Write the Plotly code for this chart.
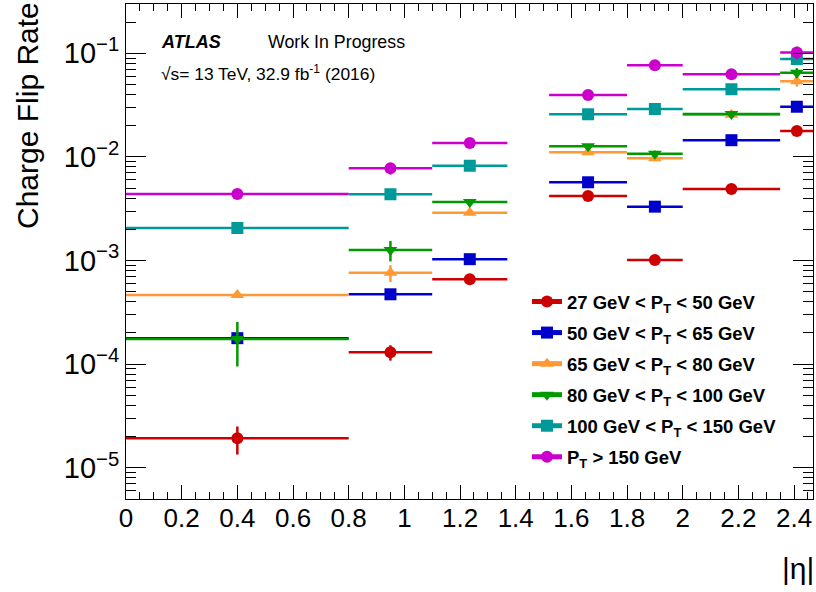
import plotly.graph_objects as go

# |eta| bins
eta_centers = [0.4, 0.95, 1.235, 1.66, 1.9, 2.175, 2.41]
eta_halfwidths = [0.4, 0.15, 0.135, 0.14, 0.1, 0.175, 0.06]

# charge flip rates per pT bin
rate_27_50 = [1.92e-5, 1.30e-4, 6.6e-4, 4.2e-3, 1.01e-3, 4.9e-3, 1.78e-2]
err_27_50 = [0.58e-5, 0.22e-4, 0.3e-4, 0.15e-3, 0.05e-3, 0.2e-3, 0.8e-3]
rate_50_65 = [1.78e-4, 4.72e-4, 1.03e-3, 5.69e-3, 3.31e-3, 1.45e-2, 3.05e-2]
err_50_65 = [0.1e-4, 0.2e-4, 0.4e-4, 0.2e-3, 0.15e-3, 0.5e-3, 1.2e-3]
rate_65_80 = [4.65e-4, 7.6e-4, 2.89e-3, 1.11e-2, 9.7e-3, 2.55e-2, 5.37e-2]
err_65_80 = [0.3e-4, 1.4e-4, 1.5e-4, 0.5e-3, 0.6e-3, 1.2e-3, 6.0e-3]
rate_80_100 = [1.75e-4, 1.26e-3, 3.67e-3, 1.27e-2, 1.07e-2, 2.59e-2, 6.5e-2]
err_80_100 = [0.8e-4, 0.28e-3, 0.25e-3, 0.6e-3, 0.8e-3, 1.4e-3, 7.0e-3]
rate_100_150 = [2.06e-3, 4.36e-3, 8.22e-3, 2.58e-2, 2.90e-2, 4.5e-2, 8.81e-2]
err_100_150 = [0.1e-3, 0.35e-3, 0.4e-3, 1.0e-3, 1.3e-3, 1.8e-3, 5.0e-3]
rate_150 = [4.38e-3, 7.76e-3, 1.36e-2, 3.96e-2, 7.66e-2, 6.27e-2, 1.02e-1]
err_150 = [0.25e-3, 1.0e-3, 0.8e-3, 1.6e-3, 3.0e-3, 2.5e-3, 1.4e-2]

series_names = [
    "<b>27 GeV < P<sub>T</sub> < 50 GeV</b>",
    "<b>50 GeV < P<sub>T</sub> < 65 GeV</b>",
    "<b>65 GeV < P<sub>T</sub> < 80 GeV</b>",
    "<b>80 GeV < P<sub>T</sub> < 100 GeV</b>",
    "<b>100 GeV < P<sub>T</sub> < 150 GeV</b>",
    "<b>P<sub>T</sub> > 150 GeV</b>",
]
series_rates = [rate_27_50, rate_50_65, rate_65_80, rate_80_100, rate_100_150, rate_150]
series_errs = [err_27_50, err_50_65, err_65_80, err_80_100, err_100_150, err_150]
series_colors = ["#cc0000", "#0000cc", "#ff9933", "#009900", "#009999", "#cc00cc"]
series_symbols = ["circle", "square", "triangle-up", "triangle-down", "square", "circle"]

# y-axis ticks
y_tickvals = [1e-5, 1e-4, 1e-3, 1e-2, 1e-1]
y_ticktext = ["10<sup>−5</sup>", "10<sup>−4</sup>", "10<sup>−3</sup>", "10<sup>−2</sup>", "10<sup>−1</sup>"]
minor_y = [m * 10.0 ** k for k in range(-6, 0) for m in range(2, 10)]

FONT = "Liberation Sans, Arial, Helvetica, sans-serif"

fig = go.Figure()
for i, (name, y, e, c, s) in enumerate(zip(series_names, series_rates, series_errs,
                                          series_colors, series_symbols)):
    fig.add_trace(go.Scatter(
        x=eta_centers, y=y, name=name, mode="markers",
        legendgroup=f"g{i}", showlegend=False,
        marker=dict(color=c, symbol=s, size=12, line=dict(width=0)),
        error_x=dict(type="data", array=eta_halfwidths, color=c, thickness=2.5, width=0),
        error_y=dict(type="data", array=e, color=c, thickness=2.5, width=0),
    ))
    # legend entry (marker with horizontal bar, like the ROOT legend)
    fig.add_trace(go.Scatter(
        x=[None], y=[None], name=name, mode="lines+markers",
        legendgroup=f"g{i}", showlegend=True,
        marker=dict(color=c, symbol=s, size=12, line=dict(width=0)),
        line=dict(color=c, width=2.5),
    ))

fig.update_layout(
    width=816, height=592,
    margin=dict(l=126, r=3, t=4, b=93, autoexpand=False),
    paper_bgcolor="white", plot_bgcolor="white",
    font=dict(family=FONT, color="black"),
    showlegend=True,
    legend=dict(
        x=(527 - 126) / 687, y=1 - (283 - 4) / 495, xanchor="left", yanchor="top",
        font=dict(size=18.5, family=FONT, color="black"),
        bgcolor="rgba(0,0,0,0)", traceorder="grouped", tracegroupgap=4,
        itemsizing="constant",
    ),
    xaxis=dict(
        range=[0, 2.468], tick0=0, dtick=0.2, ticks="inside", ticklen=14, tickwidth=1,
        tickcolor="black", showline=True, linecolor="black", linewidth=1, mirror="allticks",
        showgrid=False, zeroline=False, automargin=False,
        tickfont=dict(size=26, family=FONT, color="black"),
        ticklabelstandoff=-4,
        minor=dict(dtick=0.05, ticks="inside", ticklen=7, tickcolor="black", showgrid=False),
    ),
    yaxis=dict(
        type="log", range=[-5.302, -0.524], tickmode="array",
        tickvals=y_tickvals, ticktext=y_ticktext,
        ticks="inside", ticklen=20, tickwidth=1, tickcolor="black",
        showline=True, linecolor="black", linewidth=1, mirror="allticks",
        showgrid=False, zeroline=False, automargin=False,
        tickfont=dict(size=29, family=FONT, color="black"),
        minor=dict(tickmode="array", tickvals=minor_y, ticks="inside", ticklen=10,
                   tickcolor="black", showgrid=False),
    ),
)

annotations = [
    dict(text="Charge Flip Rate", xref="paper", yref="paper",
         x=(9 - 126) / 687, y=1 + 4 / 495, xanchor="left", yanchor="top",
         textangle=-90, showarrow=False, font=dict(size=30, family=FONT, color="black")),
    dict(text="|η|", xref="paper", yref="paper",
         x=1 + 3 / 687, y=-(550 - 499) / 495, xanchor="right", yanchor="top",
         showarrow=False, font=dict(size=30, family=FONT, color="black")),
    dict(text="<b><i>ATLAS</i></b>", xref="paper", yref="paper",
         x=(159 - 126) / 687, y=1 - (42 - 4) / 495, xanchor="left", yanchor="middle",
         showarrow=False, font=dict(size=18, family=FONT, color="black")),
    dict(text="Work In Progress", xref="paper", yref="paper",
         x=(266 - 126) / 687, y=1 - (42 - 4) / 495, xanchor="left", yanchor="middle",
         showarrow=False, font=dict(size=17.8, family=FONT, color="black")),
    dict(text="√s= 13 TeV, 32.9 fb<sup>-1</sup> (2016)", xref="paper", yref="paper",
         x=(159 - 126) / 687, y=1 - (73 - 4) / 495, xanchor="left", yanchor="middle",
         showarrow=False, font=dict(size=17.4, family=FONT, color="black")),
]
fig.update_layout(annotations=annotations)

fig.write_html("out.html", config={"displayModeBar": False},
               post_script="document.body.style.margin='0';")
